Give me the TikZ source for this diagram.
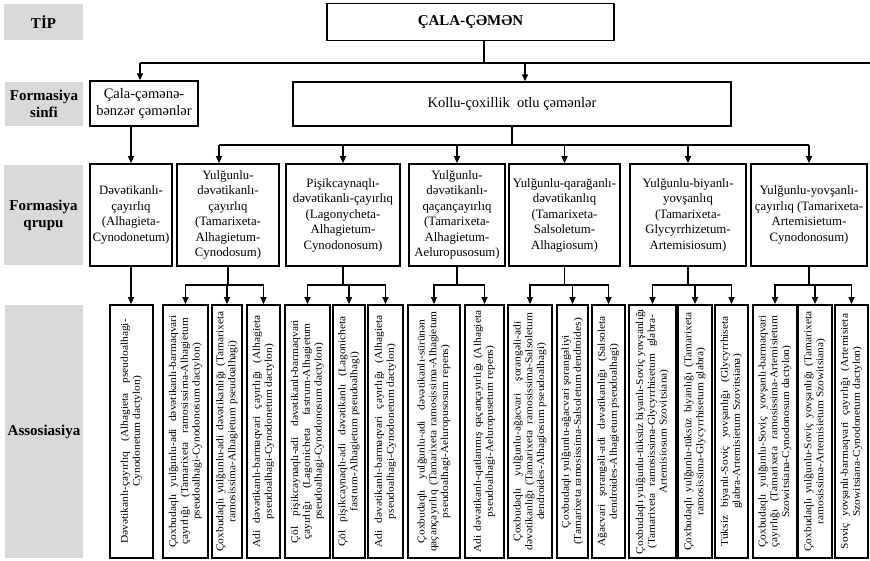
\documentclass[tikz,border=0pt]{standalone}
\usepackage{fontspec}
\setmainfont{Liberation Serif}
\usetikzlibrary{arrows.meta}
\definecolor{labgray}{HTML}{D9D9D9}

% vertical (bottom-to-top) multi-line label for the association boxes:
% lines are widened a little; full lines get somewhat looser word spacing,
% the last line is centred
\newlength\ajw
\setlength\ajw{223pt}
\newcommand\aj[1]{\scalebox{1.1}[1]{\hbox to\ajw{\spaceskip=.25em plus 1em minus .05em\relax
  \hskip 0pt plus 15pt #1\hskip 0pt plus 15pt}}}
\newcommand\ac[1]{\scalebox{1.1}[1]{\makebox[\ajw][c]{#1}}}
\newcommand\atext[1]{\rotatebox{90}{\begin{tabular}{@{}c@{}}#1\end{tabular}}}

\begin{document}
\begin{tikzpicture}[x=1pt,y=-1pt,
  lab/.style={fill=labgray, inner sep=0pt, align=center,
              font=\fontsize{15}{17}\selectfont\bfseries},
  topbox/.style={draw, line width=1.4pt, inner sep=0pt, align=center},
  grp/.style={draw, line width=1.6pt, inner sep=0pt, align=center,
              minimum height=102pt, font=\fontsize{12.8}{15.5}\selectfont},
  abox/.style={draw, line width=1.8pt, inner sep=0pt, minimum height=253pt,
               font=\fontsize{10.4}{11.8}\selectfont},
  conn/.style={line width=1.3pt},
  arr/.style={conn, -{Triangle[length=7pt,width=6pt]}},
]
\useasboundingbox (0,0) rectangle (870,561);

% level labels
\node[lab, minimum width=79pt, minimum height=36pt]  (lTip)   at (43.5,22.5) {TİP};
\node[lab, minimum width=78pt, minimum height=44pt]  (lSinf)  at (44,104)    {Formasiya\\sinfi};
\node[lab, minimum width=79pt, minimum height=100pt] (lQrup)  at (43.5,215)  {Formasiya\\qrupu};
\node[lab, minimum width=78pt, minimum height=253pt] (lAssoc) at (44,431.5)  {Assosiasiya};

% type
\node[topbox, minimum width=287pt, minimum height=37pt,
      font=\fontsize{15}{17}\selectfont\bfseries] (tip) at (470.5,22) {ÇALA-ÇƏMƏN};

% formation classes
\node[topbox, minimum width=108pt, minimum height=45pt,
      font=\fontsize{14.5}{17}\selectfont] (sinfA) at (144,103.5) {Çala-çəmənə-\\bənzər çəmənlər};
\node[topbox, minimum width=438pt, minimum height=44pt,
      font=\fontsize{14.5}{17}\selectfont] (sinfB) at (512,104) {Kollu-çoxillik\ \ otlu çəmənlər};

% formation groups
\node[grp, minimum width=82pt]  (g1) at (131,215)   {Dəvətikanlı-\\çayırlıq\\(Alhagieta-\\Cynodonetum)};
\node[grp, minimum width=102pt] (g2) at (228,215)   {Yulğunlu-\\dəvətikanlı-\\çayırlıq\\(Tamarixeta-\\Alhagietum-\\Cynodosum)};
\node[grp, minimum width=114pt] (g3) at (343,215)   {Pişikcaynaqlı-\\dəvətikanlı-çayırlıq\\(Lagonycheta-\\Alhagietum-\\Cynodonosum)};
\node[grp, minimum width=96pt]  (g4) at (457,215)   {Yulğunlu-\\dəvətikanlı-\\qaçançayırlıq\\(Tamarixeta-\\Alhagietum-\\Aeluropusosum)};
\node[grp, minimum width=111pt] (g5) at (564.5,215) {Yulğunlu-qarağanlı-\\dəvətikanlıq\\(Tamarixeta-\\Salsoletum-\\Alhagiosum)};
\node[grp, minimum width=116pt] (g6) at (688,215)   {Yulğunlu-biyanlı-\\yovşanlıq\\(Tamarixeta-\\Glycyrrhizetum-\\Artemisiosum)};
\node[grp, minimum width=116pt] (g7) at (809,215)   {Yulğunlu-yovşanlı-\\çayırlıq (Tamarixeta-\\Artemisietum-\\Cynodonosum)};

% associations
\node[abox, minimum width=43pt] (a1) at (131.5,431.5) {\atext{\aj{Dəvətikanlı-çayırlıq (Alhagieta pseudoalhagi-}\\\ac{Cynodonetum dactylon)}}};

\node[abox, minimum width=45pt] (b1) at (185.5,431.5) {\atext{\aj{Çoxbudaqlı yulğunlu-adi dəvətikanlı-barmaqvari}\\\aj{çayırlığı (Tamarixeta ramosissima-Alhagietum}\\\ac{pseudoalhagi-Cynodonosum dactylon)}}};
\node[abox, minimum width=30pt] (b2) at (227,431.5)   {\atext{\aj{Çoxbudaqlı yulğunlu-adi dəvətikanlığı (Tamarixeta}\\\ac{ramosissima-Alhagietum pseudoalhagi)}}};
\node[abox, minimum width=33pt] (b3) at (263.5,431.5) {\atext{\aj{Adi dəvətikanlı-barmaqvari çayırlığı (Alhagieta}\\\ac{pseudoalhagi-Cynodonetum dactylon)}}};

\node[abox, minimum width=45pt] (c1) at (307.5,431.5) {\atext{\aj{Çöl pişikcaynaqlı-adi dəvətikanlı-barmaqvari}\\\aj{çayırlığı (Lagonicheta fastrum-Alhagietum}\\\ac{pseudoalhagi-Cynodonosum dactylon)}}};
\node[abox, minimum width=32pt] (c2) at (349,431.5)   {\atext{\aj{Çöl pişikcaynaqlı-adi dəvətikanlı (Lagonicheta}\\\ac{fastrum-Alhagietum pseudoalhagi)}}};
\node[abox, minimum width=35pt] (c3) at (385.5,431.5) {\atext{\aj{Adi dəvətikanlı-barmaqvari çayırlığı (Alhagieta}\\\ac{pseudoalhagi-Cynodonetum dactylon)}}};

\node[abox, minimum width=52pt] (d1) at (434,431.5)   {\atext{\aj{Çoxbudaqlı yulğunlu-adi dəvətikanlı-sürünən}\\\aj{qaçançayırlıq (Tamarixeta ramosissima-Alhagietum}\\\ac{pseudoalhagi-Aeluropusosum repens)}}};
\node[abox, minimum width=39pt] (d2) at (484.5,431.5) {\atext{\aj{Adi dəvətikanlı-qatlanmış qaçançayırlığı (Alhagieta}\\\ac{pseudoalhagi-Aeluropusetum repens)}}};

\node[abox, minimum width=44pt] (e1) at (530,431.5)   {\atext{\aj{Çoxbudaqlı yulğunlu-ağacvari şorangəli-adi}\\\aj{dəvətikanlığı (Tamarixeta ramosissima-Salsoletum}\\\ac{dendroides-Alhagiosum pseudoalhagi)}}};
\node[abox, minimum width=31pt] (e2) at (572.5,431.5) {\atext{\ac{Çoxbudaqlı yulğunlu-ağacvari şorangəliyi}\\\ac{(Tamarixeta ramosissima-Salsoletum dendroides)}}};
\node[abox, minimum width=33pt] (e3) at (608.5,431.5) {\atext{\aj{Ağacvari şorangəli-adi dəvətikanlığı (Salsoleta}\\\ac{dendroides-Alhagietum pseudoalhagi)}}};

\node[abox, minimum width=47pt] (f1) at (652.5,431.5) {\atext{\aj{Çoxbudaqlı yulğunlu-tüksüz biyanlı-Soviç yovşanlığı}\\\aj{(Tamarixeta ramosissima-Glycyrrhisetum glabra-}\\\ac{Artemisiosum Szovitsiana)}}};
\node[abox, minimum width=34pt] (f2) at (695,431.5)   {\atext{\aj{Çoxbudaqlı yulğunlu-tüksüz biyanlığı (Tamarixeta}\\\ac{ramosissima-Glycyrrhisetum glabra)}}};
\node[abox, minimum width=33pt] (f3) at (731.5,431.5) {\atext{\aj{Tüksiz biyanlı-Soviç yovşanlığı (Glycyrrhiseta}\\\ac{glabra-Artemisietum Szovitsiana)}}};

\node[abox, minimum width=44pt] (h1) at (775,431.5)   {\atext{\aj{Çoxbudaqlı yulğunlu-Soviç yovşanlı-barmaqvari}\\\aj{çayırlığı (Tamarixeta ramosissima-Artemisietum}\\\ac{Szowitsiana-Cynodonosum dactylon)}}};
\node[abox, minimum width=34pt] (h2) at (815,431.5)   {\atext{\aj{Çoxbudaqlı yulğunlu-Soviç yovşanlığı (Tamarixeta}\\\ac{ramosissima-Artemisietum Szowitsiana)}}};
\node[abox, minimum width=33pt] (h3) at (851.5,431.5) {\atext{\aj{Soviç yovşanlı-barmaqvari çayırlığı (Artemisieta}\\\ac{Szowitsiana-Cynodonetum dactylon)}}};

% connectors: type -> classes
\coordinate (busTop) at (0,63);
\coordinate (busTopEnd) at (870,63);
\draw[conn] ([xshift=13.5pt]tip.south) -- ([xshift=13.5pt]tip.south |- busTop);
\draw[conn] ([xshift=-4pt]sinfA.north |- busTop) -- (busTopEnd);
\draw[arr]  ([xshift=-4pt]sinfA.north |- busTop) -- ([xshift=-4pt]sinfA.north);
\draw[arr]  ([xshift=13pt]sinfB.north |- busTop) -- ([xshift=13pt]sinfB.north);

% classes -> groups
\draw[arr] (sinfA.south -| g1.north) -- (g1.north);
\coordinate (busMid) at (0,145);
\draw[conn] (sinfB.south) -- (sinfB.south |- busMid);
\draw[conn] ([xshift=-9pt]g2.north |- busMid) -- (g7.north |- busMid);
\draw[arr]  ([xshift=-9pt]g2.north |- busMid) -- ([xshift=-9pt]g2.north);
\foreach \gn in {g3,g4,g5,g6,g7}
  \draw[arr] (\gn.north |- busMid) -- (\gn.north);

% groups -> associations
\coordinate (busLow) at (0,285);
\draw[arr] (g1.south) -- (g1.south |- a1.north);
\foreach \gn/\ka/\kz/\kids in {g2/b1/b3/{b1,b2,b3}, g3/c1/c3/{c1,c2,c3},
    g4/d1/d2/{d1,d2}, g5/e1/e3/{e1,e2,e3}, g6/f1/f3/{f1,f2,f3}, g7/h1/h3/{h1,h2,h3}} {
  \draw[conn] (\gn.south) -- (\gn.south |- busLow);
  \draw[conn, line cap=rect] (\ka.north |- busLow) -- (\kz.north |- busLow);
  \foreach \k in \kids
    \draw[arr] (\k.north |- busLow) -- (\k.north);
}
\end{tikzpicture}
\end{document}
